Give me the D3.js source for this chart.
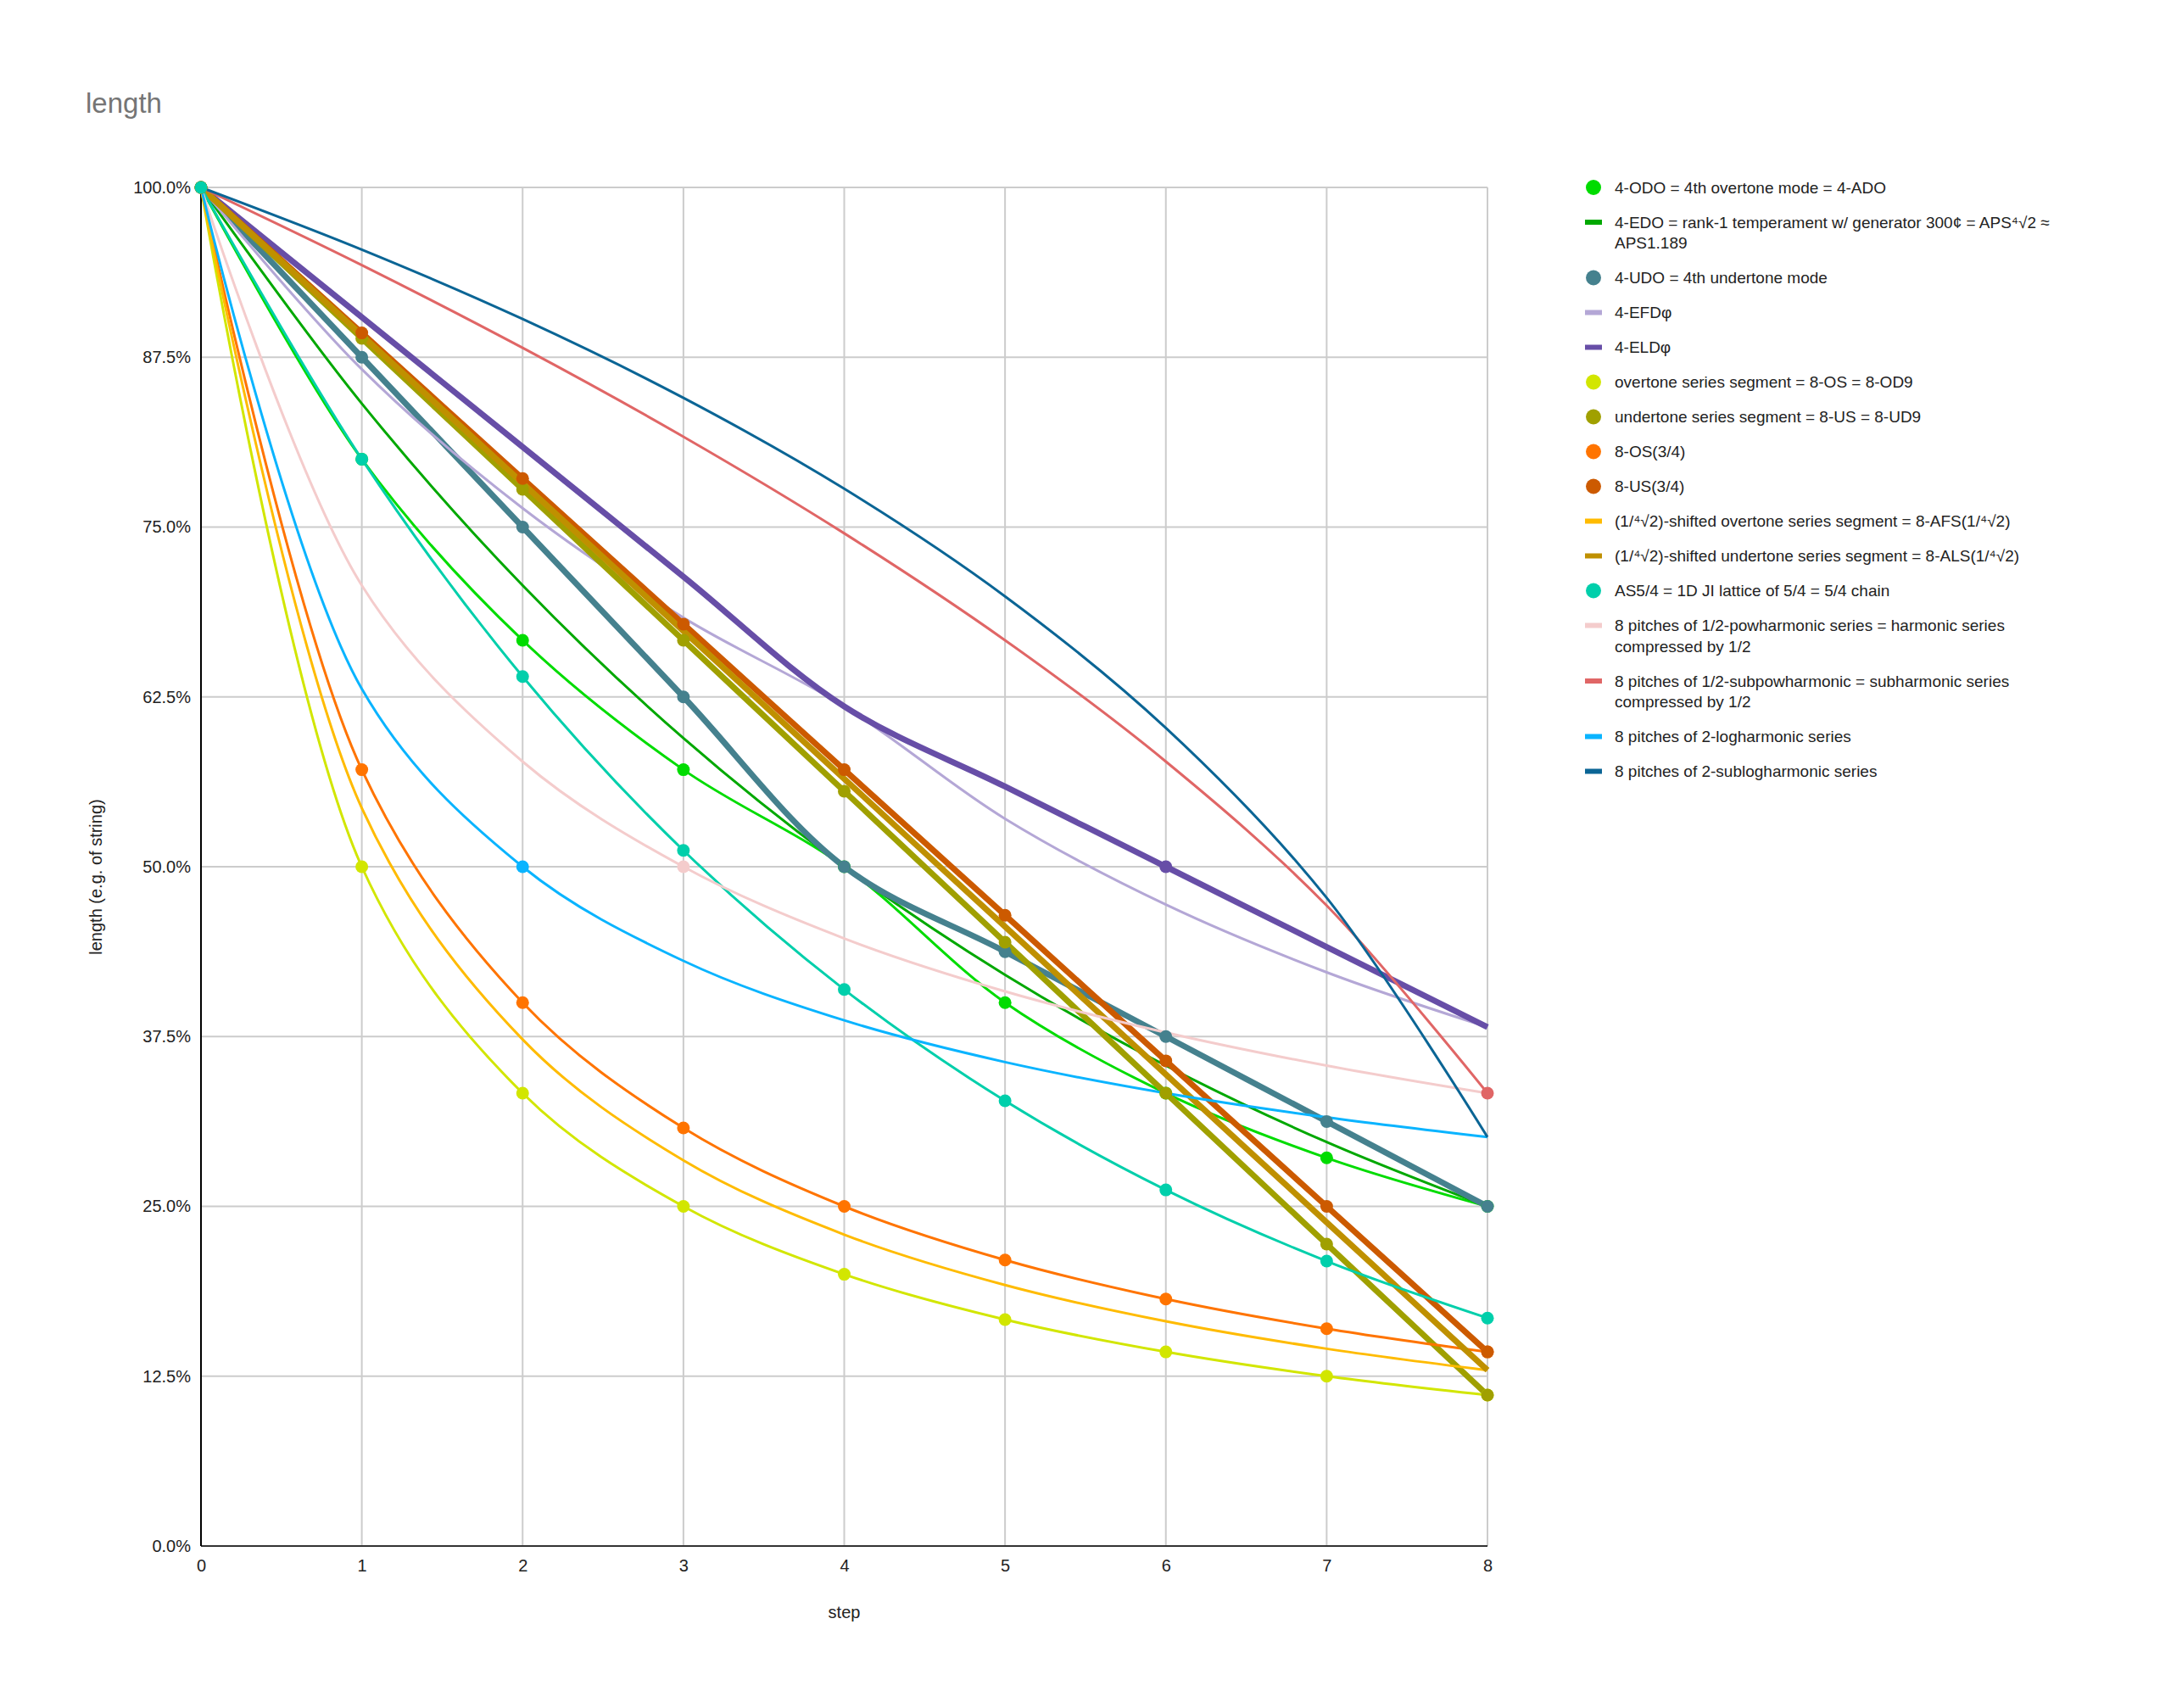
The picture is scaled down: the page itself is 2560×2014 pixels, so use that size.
<!DOCTYPE html>
<html>
<head>
<meta charset="utf-8">
<script src="https://cdn.jsdelivr.net/npm/d3@7"></script>
<style>
  body { margin: 0; background: #fff; }
  svg text { font-family: "Liberation Sans", Arial, sans-serif; }
  .grid line { stroke: #cccccc; stroke-width: 2; }
  .tick-label { font-size: 20px; fill: #222; }
  .axis-title { font-size: 20px; fill: #222; }
  .chart-title { font-size: 33px; fill: #757575; }
  .legend-label { font-size: 19px; fill: #222; }
</style>
</head>
<body>
<svg id="chart"></svg>
<script>
// x categories
const steps = [0, 1, 2, 3, 4, 5, 6, 7, 8];
const yTicks = [0, 0.125, 0.25, 0.375, 0.5, 0.625, 0.75, 0.875, 1];

const seriesNames = [
  '4-ODO = 4th overtone mode = 4-ADO',
  '4-EDO = rank-1 temperament w/ generator 300¢ = APS⁴√2 ≈ APS1.189',
  '4-UDO = 4th undertone mode',
  '4-EFDφ',
  '4-ELDφ',
  'overtone series segment = 8-OS = 8-OD9',
  'undertone series segment = 8-US = 8-UD9',
  '8-OS(3/4)',
  '8-US(3/4)',
  '(1/⁴√2)-shifted overtone series segment = 8-AFS(1/⁴√2)',
  '(1/⁴√2)-shifted undertone series segment = 8-ALS(1/⁴√2)',
  'AS5/4 = 1D JI lattice of 5/4 = 5/4 chain',
  '8 pitches of 1/2-powharmonic series = harmonic series compressed by 1/2',
  '8 pitches of 1/2-subpowharmonic = subharmonic series compressed by 1/2',
  '8 pitches of 2-logharmonic series',
  '8 pitches of 2-sublogharmonic series'
];

// length (fraction of string) per step
const odo    = [1, 0.8, 0.6667, 0.5714, 0.5, 0.4, 0.3333, 0.2857, 0.25];
const edo    = [1, 0.8409, 0.7071, 0.5946, 0.5, 0.4204, 0.3536, 0.2973, 0.25];
const udo    = [1, 0.875, 0.75, 0.625, 0.5, 0.4375, 0.375, 0.3125, 0.25];
const efdPhi = [1, 0.8662, 0.7639, 0.6833, 0.618, 0.5353, 0.4721, 0.4223, 0.382];
const eldPhi = [1, 0.9045, 0.809, 0.7135, 0.618, 0.559, 0.5, 0.441, 0.382];
const os     = [1, 0.5, 0.3333, 0.25, 0.2, 0.1667, 0.1429, 0.125, 0.1111];
const us     = [1, 0.8889, 0.7778, 0.6667, 0.5556, 0.4444, 0.3333, 0.2222, 0.1111];
const os34   = [1, 0.5714, 0.4, 0.3077, 0.25, 0.2105, 0.1818, 0.16, 0.1429];
const us34   = [1, 0.8929, 0.7857, 0.6786, 0.5714, 0.4643, 0.3571, 0.25, 0.1429];
const afs    = [1, 0.5432, 0.3729, 0.2839, 0.2292, 0.1921, 0.1654, 0.1452, 0.1294];
const als    = [1, 0.8912, 0.7823, 0.6735, 0.5647, 0.4559, 0.3471, 0.2382, 0.1294];
const as54   = [1, 0.8, 0.64, 0.512, 0.4096, 0.3277, 0.2621, 0.2097, 0.1678];
const pow    = [1, 0.7071, 0.5774, 0.5, 0.4472, 0.4082, 0.378, 0.3536, 0.3333];
const subpow = [1, 0.9428, 0.8819, 0.8165, 0.7454, 0.6667, 0.5774, 0.4714, 0.3333];
const logh   = [1, 0.6309, 0.5, 0.4307, 0.3869, 0.3562, 0.3333, 0.3155, 0.301];
const sublog = [1, 0.9542, 0.9031, 0.8451, 0.7782, 0.699, 0.6021, 0.4771, 0.301];

const seriesValues = [odo, edo, udo, efdPhi, eldPhi, os, us, os34, us34, afs, als, as54, pow, subpow, logh, sublog];

// single highlighted points on line-only series (series index -> step indexes)
const markedPoints = {4: [6], 12: [3], 13: [8], 14: [2]};

// styling
const colors = ['#00dc00', '#00a800', '#45818e', '#b4a7d6', '#674ea7', '#d2e600', '#a0a000', '#ff7400',
                '#cc5a00', '#ffbb00', '#bf9000', '#00cfab', '#f4cccc', '#e06666', '#0ab4ff', '#0b6595'];
const widths = [3, 3, 7, 3, 7, 3, 7, 3, 7, 3, 7, 3, 3, 3, 3, 3];
const withPoints = [true, false, true, false, false, true, true, true, true, false, false, true, false, false, false, false];

class LineChart {

  constructor(_config, series) {
    this.config = {
      parentElement: _config.parentElement,
      containerWidth: _config.containerWidth || 2560,
      containerHeight: _config.containerHeight || 2014,
      margin: _config.margin || {top: 221, right: 806, bottom: 191, left: 237},
      pointRadius: 7.5
    };
    this.series = series;
    this.initVis();
  }

  initVis() {
    let vis = this;

    vis.width = vis.config.containerWidth - vis.config.margin.left - vis.config.margin.right;
    vis.height = vis.config.containerHeight - vis.config.margin.top - vis.config.margin.bottom;

    vis.xScale = d3.scaleLinear()
        .domain([0, 8])
        .range([0, vis.width]);

    vis.yScale = d3.scaleLinear()
        .domain([0, 1])
        .range([vis.height, 0]);

    vis.svg = d3.select(vis.config.parentElement)
        .attr('width', vis.config.containerWidth)
        .attr('height', vis.config.containerHeight);

    vis.chartArea = vis.svg.append('g')
        .attr('transform', `translate(${vis.config.margin.left},${vis.config.margin.top})`);

    // Title
    vis.svg.append('text')
        .attr('class', 'chart-title')
        .attr('x', 101)
        .attr('y', 133)
        .text('length');

    // Axis titles
    vis.svg.append('text')
        .attr('class', 'axis-title')
        .attr('text-anchor', 'middle')
        .attr('transform', `translate(113,${vis.config.margin.top + vis.height / 2 + 12}) rotate(-90)`)
        .attr('dy', '0.35em')
        .text('length (e.g. of string)');

    vis.svg.append('text')
        .attr('class', 'axis-title')
        .attr('text-anchor', 'middle')
        .attr('x', vis.config.margin.left + vis.width / 2)
        .attr('y', vis.config.margin.top + vis.height + 85)
        .text('step');

    vis.line = d3.line()
        .x((d, i) => vis.xScale(steps[i]))
        .y(d => vis.yScale(d))
        .curve(d3.curveCatmullRom.alpha(0.5));

    vis.renderVis();
  }

  renderVis() {
    let vis = this;

    // Gridlines
    const grid = vis.chartArea.append('g').attr('class', 'grid');
    grid.selectAll('.h-grid')
        .data(yTicks.filter(d => d > 0))
      .join('line')
        .attr('class', 'h-grid')
        .attr('x1', 0)
        .attr('x2', vis.width)
        .attr('y1', d => vis.yScale(d))
        .attr('y2', d => vis.yScale(d));

    grid.selectAll('.v-grid')
        .data(steps.filter(d => d > 0))
      .join('line')
        .attr('class', 'v-grid')
        .attr('x1', d => vis.xScale(d))
        .attr('x2', d => vis.xScale(d))
        .attr('y1', 0)
        .attr('y2', vis.height);

    // Tick labels through the library axes
    const yAxis = d3.axisLeft(vis.yScale)
        .tickValues(yTicks)
        .tickSize(0)
        .tickPadding(12)
        .tickFormat(d3.format('.1%'));

    const xAxis = d3.axisBottom(vis.xScale)
        .tickValues(steps)
        .tickSize(0)
        .tickPadding(16)
        .tickFormat(d3.format('d'));

    const yAxisG = vis.chartArea.append('g').call(yAxis);
    const xAxisG = vis.chartArea.append('g')
        .attr('transform', `translate(0,${vis.height})`)
        .call(xAxis);

    [yAxisG, xAxisG].forEach(g => {
      g.select('.domain').remove();
      g.selectAll('text')
          .attr('class', 'tick-label')
          .attr('font-family', null)
          .attr('font-size', null)
          .attr('fill', null);
    });

    // Axis lines
    vis.chartArea.append('line')
        .attr('x1', 0).attr('x2', vis.width)
        .attr('y1', vis.height).attr('y2', vis.height)
        .attr('stroke', '#333')
        .attr('stroke-width', 2);

    vis.chartArea.append('line')
        .attr('x1', 0).attr('x2', 0)
        .attr('y1', 0).attr('y2', vis.height)
        .attr('stroke', '#000')
        .attr('stroke-width', 2);

    // Lines
    vis.chartArea.append('g')
      .selectAll('.series-line')
        .data(vis.series)
      .join('path')
        .attr('class', 'series-line')
        .attr('fill', 'none')
        .attr('stroke', d => d.color)
        .attr('stroke-width', d => d.width)
        .attr('stroke-linejoin', 'round')
        .attr('d', d => vis.line(d.values));

    // Points
    const pts = [];
    vis.series.forEach((s, si) => {
      s.values.forEach((v, i) => {
        if (s.points || (markedPoints[si] && markedPoints[si].includes(i))) {
          pts.push({x: steps[i], y: v, color: s.color});
        }
      });
    });

    vis.chartArea.append('g')
      .selectAll('.point')
        .data(pts)
      .join('circle')
        .attr('class', 'point')
        .attr('cx', d => vis.xScale(d.x))
        .attr('cy', d => vis.yScale(d.y))
        .attr('r', vis.config.pointRadius)
        .attr('fill', d => d.color);

    vis.renderLegend();
  }

  renderLegend() {
    let vis = this;
    const maxWidth = 530;
    const lineHeight = 24.5;
    const rowGap = 41;

    const legend = vis.svg.append('g')
        .attr('transform', `translate(1879,${vis.config.margin.top})`);

    let y = 0;
    vis.series.forEach(s => {
      const item = legend.append('g').attr('transform', `translate(0,${y})`);

      if (s.points) {
        item.append('circle')
            .attr('r', 9)
            .attr('fill', s.color);
      } else {
        item.append('rect')
            .attr('x', -10)
            .attr('y', -3)
            .attr('width', 20)
            .attr('height', 6)
            .attr('fill', s.color);
      }

      const text = item.append('text')
          .attr('class', 'legend-label')
          .attr('x', 25);

      // simple word wrap
      const words = s.name.split(' ');
      let lines = [];
      let current = '';
      const probe = text.append('tspan');
      words.forEach(w => {
        const test = current ? current + ' ' + w : w;
        probe.text(test);
        if (probe.node().getComputedTextLength() > maxWidth && current) {
          lines.push(current);
          current = w;
        } else {
          current = test;
        }
      });
      lines.push(current);
      probe.remove();

      lines.forEach((l, i) => {
        text.append('tspan')
            .attr('x', 25)
            .attr('dy', i === 0 ? '0.35em' : lineHeight)
            .text(l);
      });

      y += rowGap + (lines.length - 1) * lineHeight;
    });
  }
}

const series = seriesNames.map((name, i) => ({
  name: name,
  values: seriesValues[i],
  color: colors[i],
  width: widths[i],
  points: withPoints[i]
}));

new LineChart({parentElement: '#chart'}, series);
</script>
</body>
</html>
